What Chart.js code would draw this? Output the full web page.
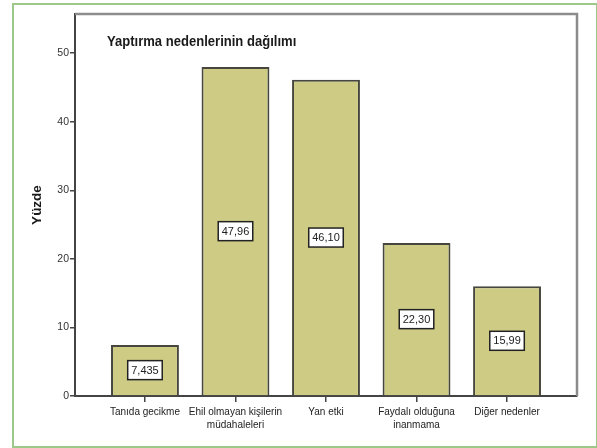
<!DOCTYPE html>
<html>
<head>
<meta charset="utf-8">
<script src="https://cdn.jsdelivr.net/npm/chart.js@4/dist/chart.umd.min.js"></script>
<style>
  html, body { margin: 0; padding: 0; background: #fff; }
  #wrap { position: relative; width: 597px; height: 448px; }
  #frame { position: absolute; left: 12px; top: 3px; width: 582px; height: 441px; border: 2px solid #9cc98a; box-sizing: content-box; pointer-events: none; }
  canvas { position: absolute; left: 0; top: 0; }
</style>
</head>
<body>
<div id="wrap">
  <canvas id="c" width="597" height="448"></canvas>
  <div id="frame"></div>
</div>
<script>
const chartTitle = "Yaptırma nedenlerinin dağılımı";
const yAxisTitle = "Yüzde";
const categories = [
  "Tanıda gecikme",
  ["Ehil olmayan kişilerin", "müdahaleleri"],
  "Yan etki",
  ["Faydalı olduğuna", "inanmama"],
  "Diğer nedenler"
];
const percentages = [7.435, 47.96, 46.10, 22.30, 15.99];
const valueLabels = ["7,435", "47,96", "46,10", "22,30", "15,99"];
const yTicks = [0, 10, 20, 30, 40, 50];

const FONT = "'Liberation Sans', Arial, sans-serif";

const framePlugin = {
  id: 'framePlugin',
  afterDraw(chart) {
    const ctx = chart.ctx, a = chart.chartArea;
    ctx.save();
    ctx.strokeStyle = '#8c8c8c';
    ctx.lineWidth = 2.5;
    ctx.beginPath();
    ctx.moveTo(a.left, a.top);
    ctx.lineTo(a.right, a.top);
    ctx.lineTo(a.right, a.bottom);
    ctx.stroke();
    ctx.restore();
    // title inside plot, slightly condensed
    ctx.save();
    ctx.fillStyle = '#1a1a1a';
    ctx.font = "bold 15px " + FONT;
    ctx.textAlign = 'left';
    ctx.textBaseline = 'middle';
    ctx.translate(107, 42);
    ctx.scale(0.87, 1);
    ctx.fillText(chartTitle, 0, 0);
    ctx.restore();
  },
  afterDatasetsDraw(chart) {
    const ctx = chart.ctx;
    const meta = chart.getDatasetMeta(0);
    ctx.save();
    ctx.font = "11px " + FONT;
    ctx.textAlign = 'center';
    ctx.textBaseline = 'middle';
    meta.data.forEach((bar, i) => {
      const cx = bar.x;
      const cy = (bar.y + bar.base) / 2;
      const t = valueLabels[i];
      const w = ctx.measureText(t).width + 7;
      const h = 19;
      ctx.fillStyle = '#ffffff';
      ctx.fillRect(cx - w / 2, cy - h / 2, w, h);
      ctx.strokeStyle = '#222';
      ctx.lineWidth = 1.5;
      ctx.strokeRect(cx - w / 2, cy - h / 2, w, h);
      ctx.fillStyle = '#222';
      ctx.fillText(t, cx, cy + 0.5);
    });
    ctx.restore();
  }
};

new Chart(document.getElementById('c'), {
  type: 'bar',
  data: {
    datasets: [{
      data: percentages.map((v, i) => ({ x: i, y: v })),
      backgroundColor: '#cecb85',
      borderColor: '#46463e',
      borderWidth: 2,
      barPercentage: 0.75,
      categoryPercentage: 1.0
    }]
  },
  options: {
    responsive: false,
    animation: false,
    events: [],
    layout: { padding: { top: 14, right: 20, left: 0, bottom: 0 } },
    plugins: { legend: { display: false }, tooltip: { enabled: false }, title: { display: false } },
    scales: {
      x: {
        type: 'linear',
        offset: false,
        min: -0.773,
        max: 4.773,
        afterBuildTicks: s => { s.ticks = categories.map((c, i) => ({ value: i })); },
        afterFit: s => { s.height = 52; },
        grid: { display: true, offset: false, drawOnChartArea: false, drawTicks: true, tickLength: 6, color: '#444', lineWidth: 1.5 },
        border: { display: true, color: '#444', width: 2 },
        ticks: {
          autoSkip: false,
          maxRotation: 0,
          padding: 4,
          color: '#222',
          font: { family: FONT, size: 10, lineHeight: 1.25 },
          callback: v => categories[v]
        }
      },
      y: {
        min: 0,
        max: 55.7,
        afterBuildTicks: s => { s.ticks = yTicks.map(v => ({ value: v })); },
        afterFit: s => { s.width = 75; },
        grid: { display: true, drawOnChartArea: false, drawTicks: true, tickLength: 5, color: '#444', lineWidth: 1.5 },
        border: { display: true, color: '#444', width: 2 },
        ticks: {
          padding: 1,
          color: '#333',
          font: { family: FONT, size: 10.5 }
        },
        title: {
          display: true,
          text: yAxisTitle,
          color: '#1a1a1a',
          font: { family: FONT, size: 13.5, weight: 'bold' },
          padding: { top: 29, bottom: 0 }
        }
      }
    }
  },
  plugins: [framePlugin]
});
</script>
</body>
</html>
